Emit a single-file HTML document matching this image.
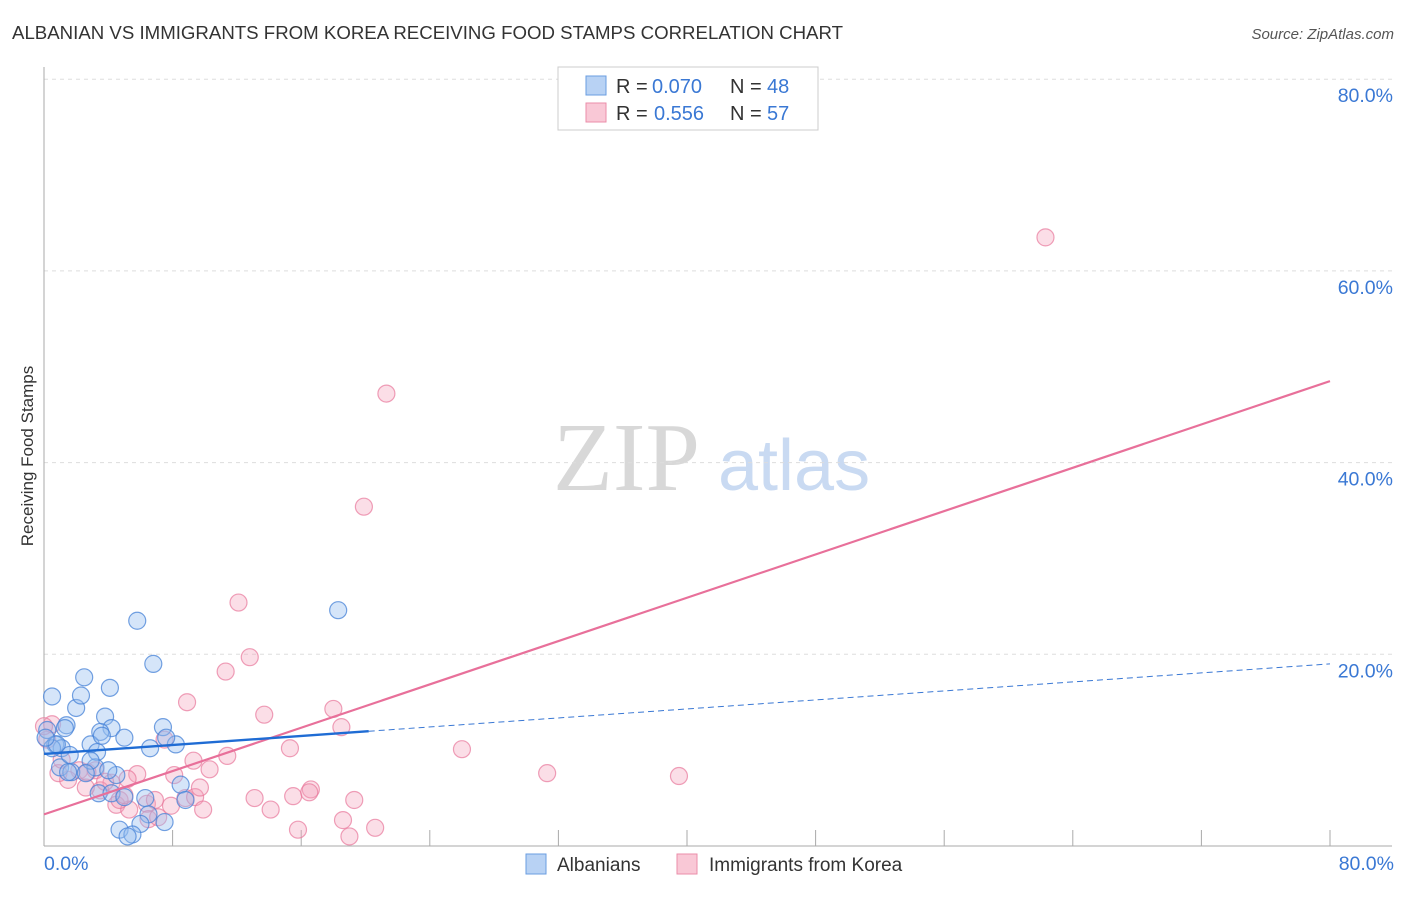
<!DOCTYPE html>
<html><head><meta charset="utf-8"><style>
body{margin:0;background:#fff;font-family:"Liberation Sans",sans-serif}
</style></head><body>
<svg id="c" width="1406" height="892" xmlns="http://www.w3.org/2000/svg" font-family="Liberation Sans, sans-serif">
<text x="12" y="39" font-size="18" fill="#333" textLength="831" lengthAdjust="spacingAndGlyphs">ALBANIAN VS IMMIGRANTS FROM KOREA RECEIVING FOOD STAMPS CORRELATION CHART</text>
<text x="1394" y="39" font-size="15" fill="#555" font-style="italic" text-anchor="end">Source: ZipAtlas.com</text>
<text x="33" y="456" font-size="17" fill="#333" text-anchor="middle" transform="rotate(-90 33 456)">Receiving Food Stamps</text>
<text x="553" y="490" font-size="98" fill="#d8d8d8" style="font-family:'Liberation Serif',serif">ZIP</text>
<text x="718" y="490" font-size="72" fill="#c9daf2">atlas</text>
<g id="grid"></g><g id="pts"></g><g id="lines"></g>
<g>
<rect x="558" y="67" width="260" height="63" fill="#fff" stroke="#ccc"/>
<rect x="586" y="76" width="20" height="19" fill="#b8d2f4" stroke="#6a9de0"/>
<rect x="586" y="103" width="20" height="19" fill="#f9c8d6" stroke="#eb8ea9"/>
<text x="616" y="93" font-size="20" fill="#333">R = <tspan x="652" fill="#3a78d4">0.070</tspan><tspan x="730">N = </tspan><tspan x="767" fill="#3a78d4">48</tspan></text>
<text x="616" y="120" font-size="20" fill="#333">R = <tspan x="654" fill="#3a78d4">0.556</tspan><tspan x="730">N = </tspan><tspan x="767" fill="#3a78d4">57</tspan></text>
</g>
<g>
<rect x="526" y="854" width="20" height="20" fill="#b8d2f4" stroke="#6a9de0"/>
<text x="557" y="871" font-size="19" fill="#333">Albanians</text>
<rect x="677" y="854" width="20" height="20" fill="#f9c8d6" stroke="#eb8ea9"/>
<text x="709" y="871" font-size="19" fill="#333">Immigrants from Korea</text>
</g>
</svg>
<script>
const yTicks=[20,40,60,80];
const yTickLabels=["20.0%","40.0%","60.0%","80.0%"];
const xTicks=[8,16,24,32,40,48,56,64,72,80];
const blueX=[0.5,2.0,1.4,2.3,2.5,4.1,5.8,6.8,18.3,3.8,4.2,3.5,2.9,1.3,0.7,0.2,1.1,3.3,5.0,6.6,7.4,8.2,7.6,1.0,1.7,3.2,2.9,4.5,3.4,4.2,5.0,6.3,6.5,6.0,7.5,8.5,8.8,4.7,5.5,5.2,0.5,0.8,1.5,0.1,3.6,1.6,4.0,2.6];
const blueY=[15.6,14.4,12.6,15.7,17.6,16.5,23.5,19.0,24.6,13.5,12.3,11.9,10.6,12.3,10.6,12.1,10.2,9.8,11.3,10.2,12.4,10.6,11.3,8.2,7.7,8.2,8.9,7.4,5.5,5.5,5.1,5.0,3.3,2.3,2.5,6.4,4.8,1.7,1.2,1.0,10.2,10.6,7.7,11.3,11.5,9.5,7.9,7.6];
const pinkX=[62.3,21.3,19.9,12.1,12.8,11.3,8.9,13.7,18.0,18.5,15.3,26.0,31.3,39.5,9.3,10.3,11.4,7.5,8.1,5.8,5.2,4.2,3.2,2.2,1.5,0.9,0.2,0.5,1.1,3.5,4.5,5.3,6.4,6.9,7.9,8.8,9.4,9.9,9.7,13.1,14.1,15.5,16.6,16.5,19.3,18.6,20.6,15.8,19.0,6.5,7.1,4.7,2.6,3.8,2.7,5.0,0];
const pinkY=[63.5,47.2,35.4,25.4,19.7,18.2,15.0,13.7,14.3,12.4,10.2,10.1,7.6,7.3,8.9,8.0,9.4,11.1,7.4,7.5,7.0,6.6,7.9,7.9,6.9,7.6,11.1,12.7,9.0,5.8,4.3,3.8,4.4,4.8,4.2,5.0,5.1,3.8,6.1,5.0,3.8,5.2,5.9,5.6,4.8,2.7,1.9,1.7,1.0,2.8,3.0,4.8,6.1,6.7,7.7,5.3,12.5];
const blueTrend=[9.6,19.0];
const pinkTrend=[3.3,48.5];
const X=v=>44+v*16.075, Y=v=>846-v*9.585;
const NS="http://www.w3.org/2000/svg";
function mk(t,a,p){const e=document.createElementNS(NS,t);for(const k in a)e.setAttribute(k,a[k]);p.appendChild(e);return e;}
const g=document.getElementById('grid');
yTicks.forEach((t,i)=>{
 const l=mk('line',{x1:44,x2:1392,y1:Y(t),y2:Y(t),stroke:'#ddd','stroke-dasharray':'4 4'},g);
 
 
 const tx=mk('text',{x:1393,y:Y(t)+23,'font-size':19.5,fill:'#3a78d4','text-anchor':'end'},g);
 tx.textContent=yTickLabels[i];
 
 
});
const ax=mk('line',{x1:44,x2:44,y1:67,y2:846,stroke:'#aaa'},g);


const bx=mk('line',{x1:44,x2:1392,y1:846,y2:846,stroke:'#aaa'},g);


xTicks.forEach(t=>{
 const l=mk('line',{x1:X(t),x2:X(t),y1:830,y2:846,stroke:'#aaa'},g);
 
 
});
const x0=mk('text',{x:44,y:870,'font-size':19.5,fill:'#3a78d4'},g);x0.textContent='0.0%';


const x1=mk('text',{x:1394,y:870,'font-size':19.5,fill:'#3a78d4','text-anchor':'end'},g);x1.textContent='80.0%';


const p=document.getElementById('pts');
pinkX.forEach((v,i)=>{
 const c=mk('circle',{cx:X(v),cy:Y(pinkY[i]),r:8.5,fill:'rgba(244,160,186,0.35)',stroke:'rgba(232,120,155,0.7)','stroke-width':1.2},p);
 
 
});
blueX.forEach((v,i)=>{
 const c=mk('circle',{cx:X(v),cy:Y(blueY[i]),r:8.5,fill:'rgba(150,190,240,0.4)',stroke:'rgba(70,130,215,0.75)','stroke-width':1.2},p);
 
 
});
const L=document.getElementById('lines');
const bt=v=>blueTrend[0]+(blueTrend[1]-blueTrend[0])*v/80;
const pt=v=>pinkTrend[0]+(pinkTrend[1]-pinkTrend[0])*v/80;
let e=mk('line',{x1:X(0),y1:Y(pt(0)),x2:X(80),y2:Y(pt(80)),stroke:'#e8709a','stroke-width':2.2},L);


e=mk('line',{x1:X(20.2),y1:Y(bt(20.2)),x2:X(80),y2:Y(bt(80)),stroke:'#3a78d4','stroke-width':1,'stroke-dasharray':'6 4'},L);


e=mk('line',{x1:X(0),y1:Y(bt(0)),x2:X(20.2),y2:Y(bt(20.2)),stroke:'#1f6cd4','stroke-width':2.4},L);


</script>
</body></html>
